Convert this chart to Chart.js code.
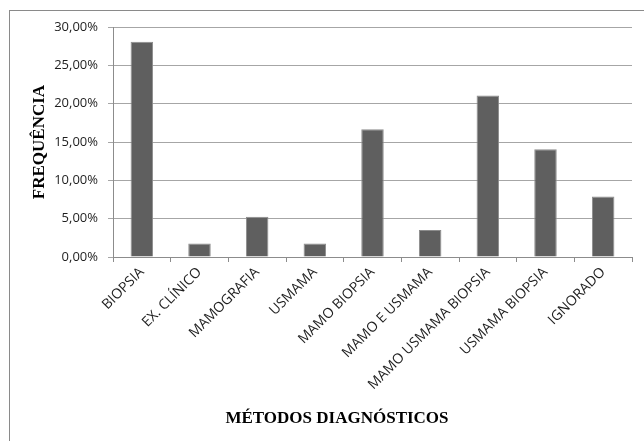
<!DOCTYPE html>
<html>
<head>
<meta charset="utf-8">
<script src="https://cdn.jsdelivr.net/npm/chart.js@4/dist/chart.umd.min.js"></script>
<style>
  html, body { margin: 0; padding: 0; background: #fff; overflow: hidden; }
  #wrap { position: relative; width: 644px; height: 441px; }
  #frame {
    position: absolute; left: 9px; top: 10px; width: 700px; height: 500px;
    border-left: 1px solid #8a8a8a; border-top: 1px solid #8a8a8a;
  }
  #chart { position: absolute; left: 0; top: 0; }
</style>
</head>
<body>
<div id="wrap">
  <div id="frame"></div>
  <canvas id="chart" width="644" height="441"></canvas>
</div>
<script>
/* Frequência por método diagnóstico (bar chart) */
var categories = [
  "BIOPSIA",
  "EX. CLÍNICO",
  "MAMOGRAFIA",
  "USMAMA",
  "MAMO BIOPSIA",
  "MAMO E USMAMA",
  "MAMO USMAMA BIOPSIA",
  "USMAMA BIOPSIA",
  "IGNORADO",
];
var frequencia = [28.07, 1.75, 5.26, 1.75, 16.67, 3.51, 21.05, 14.04, 7.89];
var yTicks = [0, 5, 10, 15, 20, 25, 30];

var yTitle = "FREQUÊNCIA";
var xTitle = "MÉTODOS DIAGNÓSTICOS";

function pct(v) {
  return Number(v).toFixed(2).replace(".", ",") + "%";
}

var serifBold = { family: "'Liberation Serif', 'DejaVu Serif', serif", size: 17, weight: "bold" };
var sansY = { family: "'Open Sans', 'Liberation Sans', sans-serif", size: 13 };
var sansX = { family: "'Open Sans', 'Liberation Sans', sans-serif", size: 14 };

new Chart(document.getElementById("chart"), {
  type: "bar",
  data: {
    labels: categories,
    datasets: [
      {
        label: "Frequência",
        data: frequencia,
        backgroundColor: "#5f5f5f",
        borderColor: "#8c8c8c",
        borderWidth: 1,
        barPercentage: 0.39,
        categoryPercentage: 1,
      },
    ],
  },
  options: {
    responsive: false,
    animation: false,
    layout: { padding: { left: 42, right: 12, top: 27, bottom: 6 } },
    plugins: {
      legend: { display: false },
      tooltip: { enabled: false },
      title: {
        display: true,
        position: "bottom",
        text: xTitle,
        color: "#000",
        font: serifBold,
        padding: { top: 6, bottom: 6 },
      },
    },
    scales: {
      x: {
        offset: true,
        grid: {
          offset: true,
          drawOnChartArea: false,
          tickLength: 5,
          color: "#8c8c8c",
        },
        border: { color: "#8c8c8c" },
        ticks: {
          autoSkip: false,
          minRotation: 45,
          maxRotation: 45,
          padding: 2,
          color: "#1e1e1e",
          font: sansX,
        },
        afterFit: function (scale) {
          scale.height = 145.6;
        },
      },
      y: {
        min: 0,
        max: 30,
        afterBuildTicks: function (scale) {
          scale.ticks = yTicks.map(function (v) {
            return { value: v };
          });
        },
        grid: { color: "#a6a6a6", tickLength: 5 },
        border: { color: "#8c8c8c" },
        ticks: {
          padding: 10,
          color: "#1e1e1e",
          font: sansY,
          callback: function (v) {
            return pct(v);
          },
        },
        title: {
          display: true,
          text: yTitle,
          color: "#000",
          font: serifBold,
          padding: { top: -12.2, bottom: 0 },
        },
        afterFit: function (scale) {
          scale.width = 71;
        },
      },
    },
  },
});
</script>
</body>
</html>
